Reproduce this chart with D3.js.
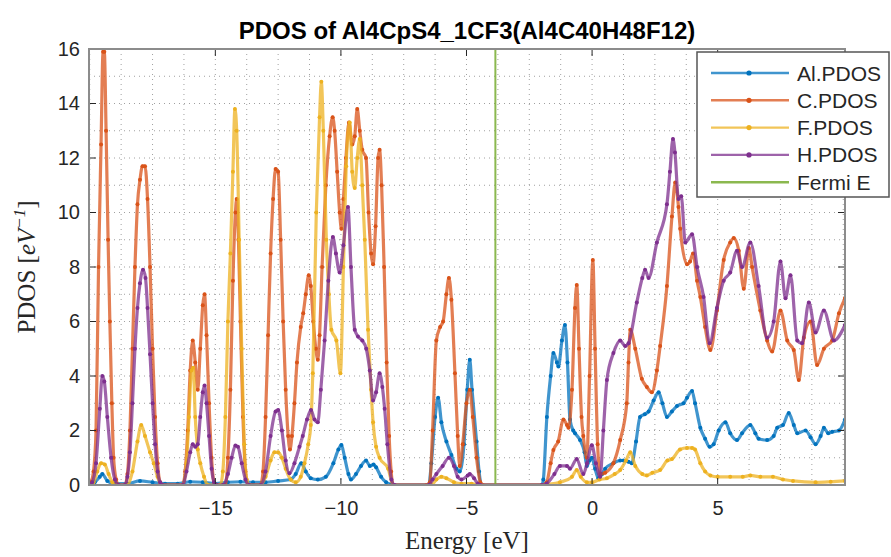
<!DOCTYPE html>
<html>
<head>
<meta charset="utf-8">
<script src="https://cdn.jsdelivr.net/npm/d3@7/dist/d3.min.js"></script>
<style>
  body { margin: 0; background: #fff; }
  svg { display: block; }
</style>
</head>
<body>
<svg id="chart" width="891" height="557"></svg>
<script>
// ---------------- DATA (energy [eV], PDOS [1/eV]) ----------------
const titleText = "PDOS of Al4CpS4_1CF3(Al4C40H48F12)";
const xTicks = [-15, -10, -5, 0, 5];
const yTicks = [0, 2, 4, 6, 8, 10, 12, 14, 16];
const fermiEnergy = -3.85;
const seriesNames = ["Al.PDOS", "C.PDOS", "F.PDOS", "H.PDOS"];
const seriesColors = ["#0072BD", "#D95319", "#EDB120", "#7E2F8E"];
const fermiName = "Fermi E";
const fermiColor = "#77AC30";

const alPdos = [
  [-20.03,0],[-19.8,0.1],[-19.6,0.3],[-19.5,0.4],[-19.3,0.15],[-19,0.05],[-18.5,0.05],[-18,0.15],[-17.5,0.1],
  [-17,0.05],[-16.5,0.05],[-16,0.12],[-15.5,0.1],[-15,0.05],[-14.5,0.1],[-14,0.12],[-13.5,0.1],[-13,0.1],
  [-12.5,0.15],[-12,0.2],[-11.8,0.4],[-11.58,0.8],[-11.4,0.5],[-11.2,0.25],[-10.92,0.2],[-10.6,0.3],[-10.3,0.8],
  [-10.1,1.3],[-9.98,1.47],[-9.85,1.0],[-9.7,0.4],[-9.6,0.2],[-9.4,0.4],[-9.2,0.7],[-9.0,0.9],[-8.85,0.7],
  [-8.7,0.75],[-8.6,0.65],[-8.4,0.3],[-8.2,0.1],[-8.0,0.02],[-7.9,0],[-6.5,0],[-6.4,0.8],[-6.25,2.5],[-6.13,3.2],
  [-6.0,2.3],[-5.8,1.6],[-5.6,1.1],[-5.4,0.6],[-5.27,0.5],[-5.1,1.5],[-4.97,3.5],[-4.87,4.6],[-4.78,3.5],[-4.6,1.6],
  [-4.5,0.5],[-4.4,0],[-2.0,0],[-1.94,0.2],[-1.8,2.5],[-1.65,4.0],[-1.54,4.84],[-1.4,4.5],[-1.34,4.35],[-1.2,5.3],
  [-1.08,5.87],[-0.98,4.5],[-0.88,2.4],[-0.75,2.0],[-0.68,1.9],[-0.48,1.65],[-0.3,1.2],[-0.21,0.7],[-0.1,0.9],
  [-0.01,1.0],[0.12,0.6],[0.25,0.25],[0.4,0.4],[0.52,0.6],[0.85,0.8],[1.12,0.9],[1.25,0.9],[1.45,0.85],[1.58,0.8],
  [1.75,1.6],[1.91,2.5],[2.1,2.6],[2.25,2.7],[2.45,3.1],[2.65,3.4],[2.8,3.0],[2.98,2.5],[3.18,2.7],[3.38,2.9],
  [3.64,3.0],[3.78,3.2],[3.98,3.45],[4.1,3.0],[4.31,2.1],[4.5,1.7],[4.68,1.4],[4.84,1.5],[5.04,2.0],[5.31,2.3],
  [5.5,1.9],[5.77,1.65],[5.97,1.9],[6.3,2.2],[6.5,1.9],[6.63,1.7],[6.97,1.65],[7.23,1.8],[7.37,2.1],[7.6,2.2],
  [7.83,2.64],[8.03,2.2],[8.17,1.9],[8.5,2.0],[8.7,1.75],[8.9,1.5],[9.1,1.8],[9.23,2.1],[9.4,1.9],[9.56,1.95],
  [9.83,2.0],[10.07,2.4]
];

const cPdos = [
  [-20.03,0],[-19.95,0.1],[-19.85,0.5],[-19.75,2],[-19.65,8],[-19.55,12.5],[-19.47,15.9],[-19.42,15.9],[-19.35,13],
  [-19.27,9],[-19.2,6],[-19.12,3],[-19.05,1],[-18.95,0.2],[-18.85,0],[-18.6,0],[-18.5,0.4],[-18.4,2],[-18.3,5],
  [-18.2,8],[-18.1,10.3],[-18.0,11.2],[-17.9,11.7],[-17.8,11.7],[-17.7,10.5],[-17.6,8],[-17.5,5],[-17.4,2.5],
  [-17.3,0.8],[-17.2,0.1],[-17.1,0],[-16.3,0],[-16.2,0.5],[-16.1,2],[-16.0,4.2],[-15.9,5.3],[-15.8,4.5],[-15.7,3.5],
  [-15.6,5],[-15.5,6.6],[-15.43,7.0],[-15.35,5.5],[-15.25,3],[-15.15,1],[-15.05,0.1],[-14.95,0],[-14.6,0],
  [-14.5,1],[-14.4,3.5],[-14.3,7.5],[-14.2,10],[-14.15,10.5],[-14.08,9],[-14.0,6],[-13.9,2.5],[-13.8,0.5],
  [-13.7,0],[-13.2,0],[-13.1,0.5],[-13.0,2.5],[-12.9,5.5],[-12.8,8.5],[-12.7,10.5],[-12.6,11.6],[-12.5,11.5],
  [-12.4,9],[-12.3,6],[-12.2,3.5],[-12.1,1.8],[-12.03,1.3],[-11.95,1.8],[-11.85,3],[-11.75,4.5],[-11.6,5.8],
  [-11.5,6.3],[-11.4,7],[-11.28,7.7],[-11.2,7.3],[-11.1,6],[-11.0,5],[-10.92,4.6],[-10.85,5.5],[-10.75,8],
  [-10.6,11],[-10.45,12.8],[-10.33,13.5],[-10.25,13],[-10.15,11.5],[-10.05,10],[-9.98,9.4],[-9.9,10.5],[-9.8,12],
  [-9.68,13.3],[-9.55,12.5],[-9.45,12.8],[-9.35,13.8],[-9.25,13],[-9.15,12.3],[-9.0,12],[-8.9,10],[-8.8,8.5],
  [-8.72,8.1],[-8.62,9.5],[-8.52,12],[-8.46,12.3],[-8.38,11],[-8.28,8],[-8.18,4.5],[-8.08,1.8],[-8.0,0.5],
  [-7.92,0],[-6.6,0],[-6.46,0.1],[-6.35,2],[-6.2,5.3],[-6.05,5.8],[-5.93,6.0],[-5.8,7.0],[-5.7,7.6],[-5.6,6.8],
  [-5.46,4.1],[-5.35,1.8],[-5.27,0.7],[-5.15,1.5],[-5.0,3.0],[-4.87,3.5],[-4.75,2.5],[-4.6,1.0],[-4.45,0.1],
  [-4.35,0],[-2.0,0],[-1.81,0.1],[-1.65,0.8],[-1.54,1.28],[-1.35,1.6],[-1.14,2.4],[-1.0,2.2],[-0.94,2.1],
  [-0.8,3.5],[-0.68,6.5],[-0.61,7.34],[-0.52,5],[-0.42,2.5],[-0.35,1.8],[-0.21,1.0],[-0.1,4],[0.03,8.26],
  [0.12,5],[0.22,1.5],[0.32,0.4],[0.52,0.45],[0.85,0.8],[1.12,1.65],[1.38,3.0],[1.45,4.5],[1.52,5.7],[1.72,5.0],
  [1.98,3.9],[2.18,3.6],[2.38,3.4],[2.58,4.2],[2.71,5.1],[2.98,7.3],[3.18,9.85],[3.31,11.1],[3.44,10.2],
  [3.51,9.4],[3.78,8.1],[3.9,8.2],[4.02,8.5],[4.18,7.5],[4.31,6.9],[4.5,5.8],[4.71,4.95],[4.97,6.4],[5.24,8.26],
  [5.5,8.9],[5.64,9.06],[5.84,8.6],[6.04,7.2],[6.24,8.7],[6.37,8.0],[6.7,6.4],[6.97,5.3],[7.17,4.9],[7.5,6.4],
  [7.77,5.3],[8.03,4.95],[8.23,3.85],[8.43,5.4],[8.7,6.0],[8.96,4.4],[9.23,5.0],[9.56,5.3],[9.83,6.3],[10.07,6.86]
];

const fPdos = [
  [-20.03,0],[-19.85,0.1],[-19.7,0.5],[-19.55,0.8],[-19.4,0.75],[-19.25,0.4],[-19.1,0.1],[-18.95,0],[-18.5,0],
  [-18.3,0.5],[-18.1,1.6],[-17.95,2.2],[-17.8,1.8],[-17.6,1.2],[-17.45,0.8],[-17.3,0.3],[-17.15,0],[-16.3,0],
  [-16.15,0.8],[-16.05,2.5],[-15.95,4.2],[-15.88,4.3],[-15.8,2.5],[-15.7,1.3],[-15.6,0.8],[-15.45,0.3],[-15.3,0],
  [-14.8,0],[-14.7,0.5],[-14.6,2.5],[-14.5,6],[-14.4,8.5],[-14.3,11.5],[-14.22,13.8],[-14.15,13],[-14.05,9],
  [-13.95,5],[-13.85,1.5],[-13.75,0.2],[-13.65,0],[-13.2,0],[-13.0,0.3],[-12.8,0.9],[-12.65,1.2],[-12.5,1.2],
  [-12.35,1.0],[-12.2,0.6],[-12.0,0.2],[-11.8,0.1],[-11.6,0.3],[-11.45,0.8],[-11.3,1.5],[-11.2,2.2],[-11.12,4.1],
  [-10.98,10],[-10.85,13.5],[-10.78,14.8],[-10.7,13],[-10.58,9],[-10.48,7],[-10.38,5.7],[-10.18,5.3],[-10.02,4.1],
  [-9.9,8],[-9.79,11.7],[-9.65,13.3],[-9.55,11.5],[-9.45,10.9],[-9.35,12],[-9.25,12.7],[-9.15,11],[-9.05,9],
  [-8.92,5.7],[-8.8,3.5],[-8.72,2.3],[-8.6,1.4],[-8.46,1.0],[-8.12,0.6],[-7.92,0],[-6.4,0],[-6.2,0.2],[-6.0,0.3],
  [-5.8,0.25],[-5.5,0.1],[-5.2,0.05],[-4.8,0.05],[-4.5,0],[-2.0,0],[-1.81,0.02],[-1.28,0.1],[-0.8,0.3],[-0.61,0.55],
  [-0.45,0.3],[-0.21,0.1],[0.0,0.1],[0.3,0.2],[0.59,0.25],[0.9,0.4],[1.12,0.55],[1.35,0.9],[1.52,1.2],[1.72,0.7],
  [2.0,0.4],[2.18,0.35],[2.4,0.45],[2.71,0.55],[3.0,0.9],[3.18,0.95],[3.5,1.3],[3.78,1.36],[3.98,1.36],[4.1,1.3],
  [4.31,0.8],[4.5,0.5],[4.71,0.35],[5.0,0.3],[5.5,0.3],[6.0,0.3],[6.3,0.35],[6.7,0.3],[7.2,0.3],[7.6,0.2],
  [8.0,0.15],[8.9,0.1],[9.5,0.12],[10.07,0.15]
];

const hPdos = [
  [-20.03,0],[-19.9,0.1],[-19.75,0.8],[-19.6,2.8],[-19.5,4.0],[-19.42,3.8],[-19.3,2.5],[-19.15,1.0],[-19.0,0.2],
  [-18.85,0],[-18.6,0],[-18.5,0.3],[-18.4,1.2],[-18.3,3],[-18.2,5],[-18.1,6.5],[-18.0,7.4],[-17.88,7.9],[-17.78,7.6],
  [-17.7,6.5],[-17.6,4.8],[-17.5,3],[-17.4,1.5],[-17.3,0.5],[-17.2,0.1],[-17.1,0],[-16.3,0],[-16.15,0.5],[-16.0,1.2],
  [-15.9,1.5],[-15.8,1.4],[-15.7,1.5],[-15.6,2.5],[-15.5,3.4],[-15.43,3.65],[-15.35,3],[-15.25,1.8],[-15.15,0.6],
  [-15.05,0.1],[-14.95,0],[-14.7,0],[-14.5,0.4],[-14.35,1.0],[-14.2,1.45],[-14.1,1.4],[-13.95,0.8],[-13.8,0.2],
  [-13.65,0],[-13.2,0],[-13.0,0.5],[-12.8,1.8],[-12.6,2.7],[-12.5,2.75],[-12.35,2.0],[-12.2,0.9],[-12.05,0.43],
  [-11.85,0.8],[-11.65,1.4],[-11.52,1.8],[-11.35,2.4],[-11.19,2.75],[-11.05,2.4],[-10.92,2.3],[-10.8,3.5],
  [-10.65,5.3],[-10.5,7.5],[-10.32,9.1],[-10.2,8.5],[-10.05,7.8],[-9.9,8.8],[-9.72,10.2],[-9.6,8],[-9.45,5.7],
  [-9.32,5.45],[-9.15,5.3],[-8.99,5.0],[-8.85,4.2],[-8.72,3.1],[-8.6,3.4],[-8.46,4.1],[-8.35,3.6],[-8.26,2.8],
  [-8.15,1.5],[-7.99,0.2],[-7.86,0],[-6.5,0],[-6.35,0.2],[-6.2,0.4],[-5.95,0.7],[-5.7,1.0],[-5.5,0.7],[-5.35,0.3],
  [-5.2,0.2],[-4.95,0.35],[-4.87,0.4],[-4.7,0.25],[-4.55,0.05],[-4.45,0],[-2.0,0],[-1.81,0.05],[-1.5,0.4],
  [-1.28,0.7],[-1.0,0.7],[-0.88,0.6],[-0.61,0.95],[-0.35,0.4],[-0.2,0.8],[-0.01,1.46],[0.15,0.8],[0.32,0.3],
  [0.45,2.0],[0.59,3.85],[0.85,4.84],[1.12,5.3],[1.32,5.1],[1.45,5.2],[1.78,6.7],[2.0,7.6],[2.11,7.9],[2.25,7.6],
  [2.58,8.9],[2.98,10.3],[3.1,11.5],[3.22,12.7],[3.3,12.2],[3.44,10.5],[3.55,10.6],[3.71,8.9],[3.98,9.2],
  [4.18,8.0],[4.44,6.9],[4.68,5.2],[4.97,6.5],[5.24,7.5],[5.5,7.8],[5.77,8.6],[5.97,8.0],[6.3,8.9],[6.63,7.3],
  [6.97,5.4],[7.23,6.0],[7.5,8.2],[7.7,6.85],[7.9,7.7],[8.17,5.3],[8.36,5.2],[8.63,6.7],[8.9,5.6],[9.23,6.4],
  [9.63,5.3],[10.07,5.87]
];

const seriesData = [alPdos, cPdos, fPdos, hPdos];

// ---------------- LAYOUT ----------------
const W = 891, H = 557;
const plotLeft = 89, plotRight = 845, plotTop = 49, plotBottom = 485;
const svg = d3.select("#chart");

const x = d3.scaleLinear().domain([-20.03, 10.07]).range([plotLeft, plotRight]);
const y = d3.scaleLinear().domain([0, 16]).range([plotBottom, plotTop]);

const axisColor = "#262626";
const boxColor = "#8c8c8c";
const sansFont = "'Liberation Sans', Arial, Helvetica, sans-serif";
const serifFont = "'Liberation Serif', 'Times New Roman', serif";

// minor grid (dotted)
const xMinor = d3.range(-20, 10.1, 1.25);
const yMinor = d3.range(0, 16.01, 1);
const grid = svg.append("g");
grid.selectAll("line.gx").data(xMinor).join("line")
  .attr("x1", d => x(d)).attr("x2", d => x(d))
  .attr("y1", y(0)).attr("y2", y(16))
  .attr("stroke", "#a0a0a0").attr("stroke-width", 1).attr("stroke-dasharray", "1,4");
grid.selectAll("line.gy").data(yMinor).join("line")
  .attr("y1", d => y(d)).attr("y2", d => y(d))
  .attr("x1", x.range()[0]).attr("x2", x.range()[1])
  .attr("stroke", "#a0a0a0").attr("stroke-width", 1).attr("stroke-dasharray", "1,4");

// clip
svg.append("clipPath").attr("id", "clip").append("rect")
  .attr("x", x.range()[0]).attr("y", y(16) - 2)
  .attr("width", x.range()[1] - x.range()[0]).attr("height", y(0) - y(16) + 2);

const line = d3.line().curve(d3.curveMonotoneX).x(d => x(d[0])).y(d => y(d[1]));
const plotG = svg.append("g").attr("clip-path", "url(#clip)");

seriesData.forEach((s, i) => {
  const g = plotG.append("g");
  g.append("path").datum(s)
    .attr("fill", "none").attr("stroke", seriesColors[i])
    .attr("stroke-width", 3.2).attr("stroke-linejoin", "round")
    .attr("stroke-opacity", 0.75)
    .attr("d", line);
  g.selectAll("circle").data(s).join("circle")
    .attr("cx", d => x(d[0])).attr("cy", d => y(d[1])).attr("r", 2)
    .attr("fill", seriesColors[i]);
});

// Fermi line
plotG.append("line")
  .attr("x1", x(fermiEnergy)).attr("x2", x(fermiEnergy))
  .attr("y1", y(0)).attr("y2", y(16))
  .attr("stroke", fermiColor).attr("stroke-width", 2).attr("stroke-opacity", 0.85);

// axes (labels only; ticks drawn inward below)
const xAxisB = d3.axisBottom(x).tickValues(xTicks).tickSize(0).tickPadding(16).tickFormat(d3.format("d"));
const yAxisL = d3.axisLeft(y).tickValues(yTicks).tickSize(0).tickPadding(9).tickFormat(d3.format("d"));
const gx = svg.append("g").attr("transform", `translate(0,${y(0)})`).call(xAxisB);
const gy = svg.append("g").attr("transform", `translate(${x.range()[0]},0)`).call(yAxisL);
[gx, gy].forEach(g => {
  g.select(".domain").remove();
  g.selectAll("text").attr("font-family", sansFont).attr("font-size", 20).attr("fill", axisColor);
});
gx.selectAll("text").attr("dy", "0.71em");

// inward tick marks
const tickLen = 7;
const ticksG = svg.append("g").attr("stroke", axisColor).attr("stroke-width", 1);
xTicks.forEach(t => {
  ticksG.append("line").attr("x1", x(t)).attr("x2", x(t)).attr("y1", y(0)).attr("y2", y(0) - tickLen);
  ticksG.append("line").attr("x1", x(t)).attr("x2", x(t)).attr("y1", y(16)).attr("y2", y(16) + tickLen);
});
yTicks.forEach(t => {
  ticksG.append("line").attr("y1", y(t)).attr("y2", y(t)).attr("x1", x.range()[0]).attr("x2", x.range()[0] + tickLen);
  ticksG.append("line").attr("y1", y(t)).attr("y2", y(t)).attr("x1", x.range()[1]).attr("x2", x.range()[1] - tickLen);
});

// box
svg.append("rect")
  .attr("x", x.range()[0]).attr("y", y(16))
  .attr("width", x.range()[1] - x.range()[0]).attr("height", y(0) - y(16))
  .attr("fill", "none").attr("stroke", boxColor).attr("stroke-width", 2);

// title
svg.append("text").attr("x", (x.range()[0] + x.range()[1]) / 2).attr("y", 39)
  .attr("text-anchor", "middle").attr("font-family", sansFont).attr("font-weight", "bold")
  .attr("font-size", 24).attr("fill", "#000").text(titleText);

// x label
svg.append("text").attr("x", (x.range()[0] + x.range()[1]) / 2).attr("y", 549)
  .attr("text-anchor", "middle").attr("font-family", serifFont)
  .attr("font-size", 25).attr("fill", axisColor).text("Energy [eV]");

// y label
const yl = svg.append("text")
  .attr("transform", `translate(35,${(y(0) + y(16)) / 2}) rotate(-90)`)
  .attr("text-anchor", "middle").attr("font-family", serifFont)
  .attr("font-size", 25).attr("fill", axisColor);
yl.append("tspan").text("PDOS [");
yl.append("tspan").attr("font-style", "italic").text("eV");
yl.append("tspan").attr("font-style", "italic").attr("font-size", 17).attr("dy", -10).text("\u22121");
yl.append("tspan").attr("dy", 10).text("]");

// legend
const legX = 697, legY = 52, legW = 192, legH = 145;
const leg = svg.append("g");
leg.append("rect").attr("x", legX).attr("y", legY).attr("width", legW).attr("height", legH)
  .attr("fill", "#fff").attr("stroke", "#555").attr("stroke-width", 1.5);
const legNames = seriesNames.concat([fermiName]);
const legColors = seriesColors.concat([fermiColor]);
legNames.forEach((n, i) => {
  const cy = legY + 21 + i * 27.3;
  leg.append("line").attr("x1", legX + 14).attr("x2", legX + 92).attr("y1", cy).attr("y2", cy)
    .attr("stroke", legColors[i]).attr("stroke-width", 2.4).attr("stroke-opacity", i < 4 ? 0.75 : 0.85);
  if (i < 4) leg.append("circle").attr("cx", legX + 52).attr("cy", cy).attr("r", 2.6).attr("fill", legColors[i]);
  leg.append("text").attr("x", legX + 100).attr("y", cy).attr("dy", "0.36em")
    .attr("font-family", sansFont).attr("font-size", 21).attr("fill", axisColor).text(n);
});
</script>
</body>
</html>
